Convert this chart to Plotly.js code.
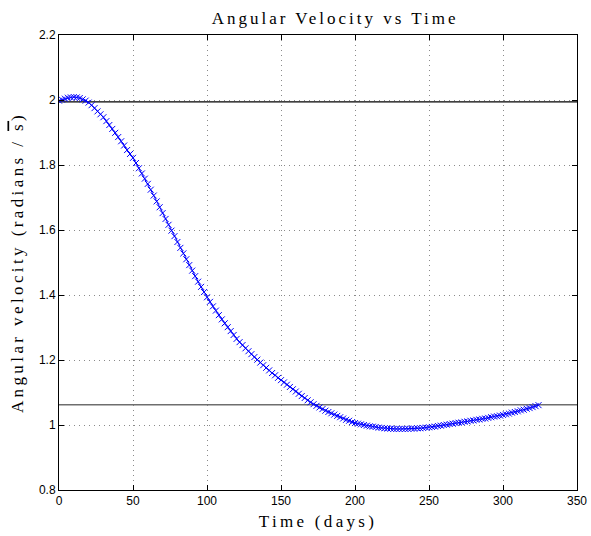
<!DOCTYPE html>
<html>
<head>
<meta charset="utf-8">
<script src="https://cdn.plot.ly/plotly-3.0.1.min.js"></script>
<style>
html,body{margin:0;padding:0;background:#fff;}
.gtitle{letter-spacing:3px;}
.xtitle{letter-spacing:3.3px;}
.ytitle{letter-spacing:3.4px;}
</style>
</head>
<body>
<div id="chart" style="width:591px;height:536px;"></div>
<script>
// Time (days)
const timeDays = [0,2,4,6,8,10,12,14,16,18,20,22,24,26,28,30,32,34,36,38,40,42,44,46,48,50,52,54,56,58,60,62,64,66,68,70,72,74,76,78,80,82,84,86,88,90,92,94,96,98,100,102,104,106,108,110,112,114,116,118,120,122,124,126,128,130,132,134,136,138,140,142,144,146,148,150,152,154,156,158,160,162,164,166,168,170,172,174,176,178,180,182,184,186,188,190,192,194,196,198,200,202,204,206,208,210,212,214,216,218,220,222,224,226,228,230,232,234,236,238,240,242,244,246,248,250,252,254,256,258,260,262,264,266,268,270,272,274,276,278,280,282,284,286,288,290,292,294,296,298,300,302,304,306,308,310,312,314,316,318,320,322,324];
// Angular velocity (radians / s)
const angVel = [1.998,2.001,2.004,2.007,2.008,2.009,2.008,2.006,2.002,1.998,1.992,1.984,1.975,1.965,1.956,1.947,1.935,1.923,1.911,1.899,1.886,1.873,1.860,1.846,1.834,1.822,1.806,1.790,1.774,1.758,1.742,1.724,1.706,1.688,1.670,1.652,1.634,1.616,1.598,1.581,1.563,1.545,1.528,1.510,1.492,1.475,1.458,1.441,1.425,1.409,1.393,1.379,1.365,1.352,1.338,1.325,1.313,1.301,1.289,1.277,1.265,1.255,1.246,1.236,1.227,1.218,1.209,1.201,1.192,1.184,1.176,1.168,1.160,1.153,1.145,1.138,1.131,1.124,1.117,1.110,1.103,1.096,1.089,1.083,1.076,1.070,1.064,1.059,1.054,1.049,1.044,1.040,1.036,1.032,1.028,1.024,1.020,1.016,1.013,1.009,1.006,1.004,1.002,1.000,0.998,0.996,0.995,0.994,0.992,0.991,0.990,0.989,0.989,0.988,0.988,0.988,0.988,0.988,0.988,0.989,0.989,0.990,0.990,0.991,0.992,0.993,0.994,0.995,0.997,0.998,1.000,1.001,1.003,1.004,1.006,1.007,1.008,1.010,1.011,1.013,1.014,1.016,1.017,1.019,1.020,1.022,1.024,1.026,1.027,1.029,1.031,1.033,1.035,1.038,1.040,1.042,1.045,1.047,1.050,1.052,1.055,1.058,1.061];
// Horizontal reference levels
const upperLevel = 1.994;
const lowerLevel = 1.0625;
const xSpan = [0, 350];
const xTicks = [0,50,100,150,200,250,300,350];
const yTicks = [0.8,1,1.2,1.4,1.6,1.8,2,2.2];

const serif = '"Liberation Serif", "DejaVu Serif", serif';
const sans = '"Liberation Sans", Arial, sans-serif';

const traces = [
  {x: xSpan, y: [upperLevel, upperLevel], mode: 'lines', line: {color: '#000000', width: 1.2}, hoverinfo: 'skip', showlegend: false},
  {x: xSpan, y: [lowerLevel, lowerLevel], mode: 'lines', line: {color: '#6e6e6e', width: 1.5}, hoverinfo: 'skip', showlegend: false},
  {x: timeDays, y: angVel, mode: 'lines+markers', line: {color: '#0000ff', width: 1},
   marker: {symbol: 'x-thin-open', size: 6, color: '#0000ff', line: {color: '#0000ff', width: 1}}, showlegend: false}
];

const axisCommon = {
  showline: true, linecolor: '#000', linewidth: 1, mirror: 'ticks',
  ticks: 'inside', ticklen: 5, tickcolor: '#000', tickwidth: 1,
  showgrid: true, gridcolor: '#8a8a8a', griddash: '1px,4px', gridwidth: 1,
  zeroline: false, tickfont: {family: sans, size: 12, color: '#000'}
};

const layout = {
  width: 591, height: 536,
  margin: {l: 59, r: 14, t: 35, b: 46},
  paper_bgcolor: '#fff', plot_bgcolor: '#fff',
  title: {text: 'Angular Velocity vs Time', font: {family: serif, size: 17, color: '#000'},
          xref: 'container', x: 0.567, xanchor: 'center', yref: 'container', y: 0.967, yanchor: 'middle'},
  xaxis: Object.assign({}, axisCommon, {range: [0, 350], tickvals: xTicks, ticktext: xTicks.map(String),
    title: {text: 'Time (days)', font: {family: serif, size: 17, color: '#000'}, standoff: 7}}),
  yaxis: Object.assign({}, axisCommon, {range: [0.8, 2.2], tickvals: yTicks, ticktext: yTicks.map(String),
    title: {text: 'Angular velocity (radians / <span style="text-decoration:overline">s</span>)', font: {family: serif, size: 17, color: '#000'}, standoff: 10}}),
  showlegend: false
};

Plotly.newPlot('chart', traces, layout, {displayModeBar: false, staticPlot: true});
</script>
</body>
</html>
